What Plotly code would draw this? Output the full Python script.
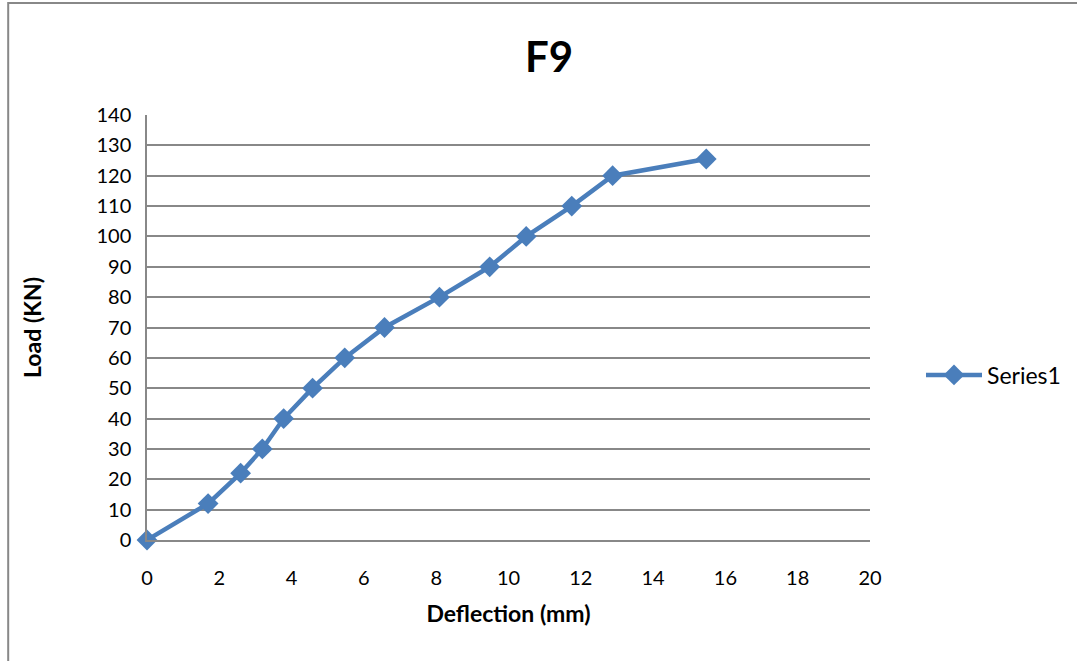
import plotly.graph_objects as go

deflection = [0, 1.69, 2.59, 3.19, 3.78, 4.58, 5.47, 6.57, 8.09, 9.48, 10.49, 11.75, 12.88, 15.47]
load = [0, 12, 22, 30, 40, 50, 60, 70, 80, 90, 100, 110, 120, 125.5]
series_name = "Series1"
title = "F9"
x_title = "Deflection (mm)"
y_title = "Load (KN)"

FONT = "Lato"
BLUE = "#4A7EBB"
GRAY = "#888888"

fig = go.Figure()
fig.add_trace(go.Scatter(
    x=deflection, y=load, name=series_name, mode="lines+markers",
    line=dict(color=BLUE, width=4.5),
    marker=dict(symbol="diamond", size=16, color=BLUE),
    cliponaxis=False,
))

fig.update_layout(
    width=1077, height=661,
    margin=dict(l=147, r=206, t=115, b=121),
    paper_bgcolor="white", plot_bgcolor="white",
    font=dict(family=FONT, color="black", size=20),
    title=dict(text="<b>" + title + "</b>", x=549 / 1077, xanchor="center",
               y=1 - 57 / 661, yanchor="middle",
               font=dict(size=42, family=FONT, color="black")),
    showlegend=True,
    legend=dict(x=(921 - 147) / 724, xanchor="left", y=(540 - 375) / 425, yanchor="middle",
                font=dict(size=23, family=FONT), itemwidth=56,
                bgcolor="rgba(0,0,0,0)", borderwidth=0),
    xaxis=dict(range=[0, 20], dtick=2, tick0=0, showgrid=False, zeroline=False,
               showline=True, linecolor=GRAY, linewidth=1.5,
               ticks="", ticklabelstandoff=19,
               title=dict(text="<b>" + x_title + "</b>", font=dict(size=23, family=FONT), standoff=18)),
    yaxis=dict(range=[0, 140], dtick=10, tick0=0, showgrid=True, gridcolor=GRAY, gridwidth=1.5,
               zeroline=False, showline=True, linecolor=GRAY, linewidth=1.5,
               ticks="", ticklabelstandoff=10,
               title=dict(text="<b>" + y_title + "</b>", font=dict(size=23, family=FONT), standoff=48)),
)

fig.add_shape(type="rect", xref="paper", yref="paper",
              x0=(8 - 147) / 724, x1=(1300 - 147) / 724,
              y0=(540 - 800) / 425, y1=(540 - 3) / 425,
              line=dict(color=GRAY, width=2), fillcolor="rgba(0,0,0,0)", layer="below")

fig.write_html("out.html")
